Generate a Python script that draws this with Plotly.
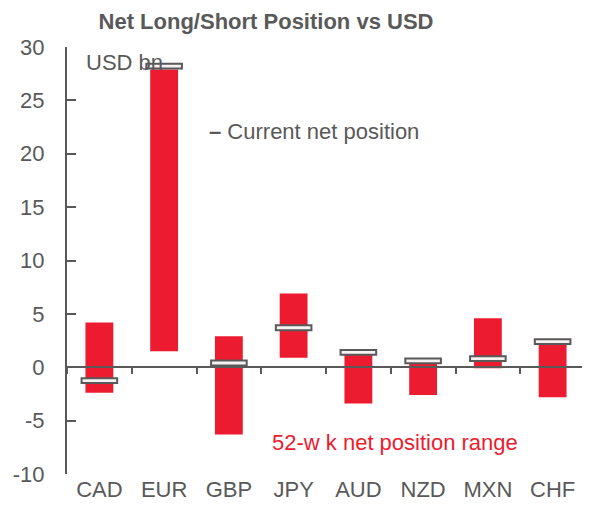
import plotly.graph_objects as go

categories = ["CAD", "EUR", "GBP", "JPY", "AUD", "NZD", "MXN", "CHF"]
range_max = [4.2, 27.9, 2.9, 6.9, 1.3, 0.5, 4.6, 2.3]
range_min = [-2.4, 1.5, -6.3, 0.9, -3.4, -2.6, -0.1, -2.8]
current = [-1.25, 28.2, 0.4, 3.7, 1.4, 0.6, 0.8, 2.4]
y_ticks = [-10, -5, 0, 5, 10, 15, 20, 25, 30]
y_tick_text = ["-10", "-5", "0", "5", "10", "15", "20", "25", "30"]

RED = "#ED1B2F"
GRAY = "#595959"
FONT = "Liberation Sans, Arial, sans-serif"
FS = 22

marker_h = 0.45
fig = go.Figure()
fig.add_trace(go.Bar(
    x=categories,
    y=[hi - lo for hi, lo in zip(range_max, range_min)],
    base=range_min,
    width=0.43,
    marker=dict(color=RED, line=dict(width=0)),
    hoverinfo="skip",
    showlegend=False,
))
fig.add_trace(go.Bar(
    x=categories,
    y=[marker_h] * len(current),
    base=[c - marker_h / 2 for c in current],
    width=0.55,
    marker=dict(color="#F7F2F2", line=dict(color=GRAY, width=2)),
    showlegend=False,
))
# invisible trace for the zero-line axis with boundary ticks
fig.add_trace(go.Scatter(x=categories, y=[0] * len(categories), xaxis="x2",
                         mode="markers", marker=dict(opacity=0), hoverinfo="skip",
                         showlegend=False))

W, H = 582, 504
fig.update_layout(
    width=W, height=H,
    margin=dict(l=59, r=5, t=39, b=38),
    paper_bgcolor="white", plot_bgcolor="white",
    barmode="overlay",
    font=dict(family=FONT, color=GRAY, size=FS),
    title=dict(text="<b>Net Long/Short Position vs USD</b>", x=258 / W, xanchor="center",
               y=1 - 6 / H, yanchor="top", pad=dict(t=0, b=0),
               font=dict(size=22, color=GRAY, family=FONT)),
    xaxis=dict(categoryorder="array", categoryarray=categories, range=[-0.5, 7.5],
               showline=False, ticks="", showgrid=False, zeroline=False,
               tickfont=dict(size=FS, color=GRAY)),
    xaxis2=dict(overlaying="x", matches="x", anchor="free", position=0.25,
                showline=True, linecolor=GRAY, linewidth=2, ticks="outside",
                tickson="boundaries", ticklen=6, tickwidth=2, tickcolor=GRAY,
                showticklabels=False, showgrid=False, zeroline=False),
    yaxis=dict(range=[-10, 30], tickvals=y_ticks, ticktext=y_tick_text, showline=True,
               linecolor=GRAY, linewidth=2, ticks="inside", ticklen=9, tickwidth=2,
               tickcolor=GRAY, showgrid=False, zeroline=False, ticklabelstandoff=16,
               tickfont=dict(size=FS, color=GRAY)),
    annotations=[
        dict(text="USD bn", xref="paper", yref="paper", x=17 / 518, y=1 - 15 / 427,
             xanchor="left", yanchor="middle", showarrow=False,
             font=dict(size=FS, color=GRAY, family=FONT)),
        dict(text="<b>–</b> Current net position", xref="paper", yref="paper",
             x=(207 - 67) / 518, y=1 - (131 - 47) / 427, xanchor="left", yanchor="middle",
             showarrow=False, font=dict(size=FS, color=GRAY, family=FONT)),
        dict(text="52-w k net position range", xref="paper", yref="paper",
             x=(270 - 67) / 518, y=1 - (442 - 47) / 427, xanchor="left", yanchor="middle",
             showarrow=False, font=dict(size=FS, color=RED, family=FONT)),
    ],
)
fig.write_html("out.html")
